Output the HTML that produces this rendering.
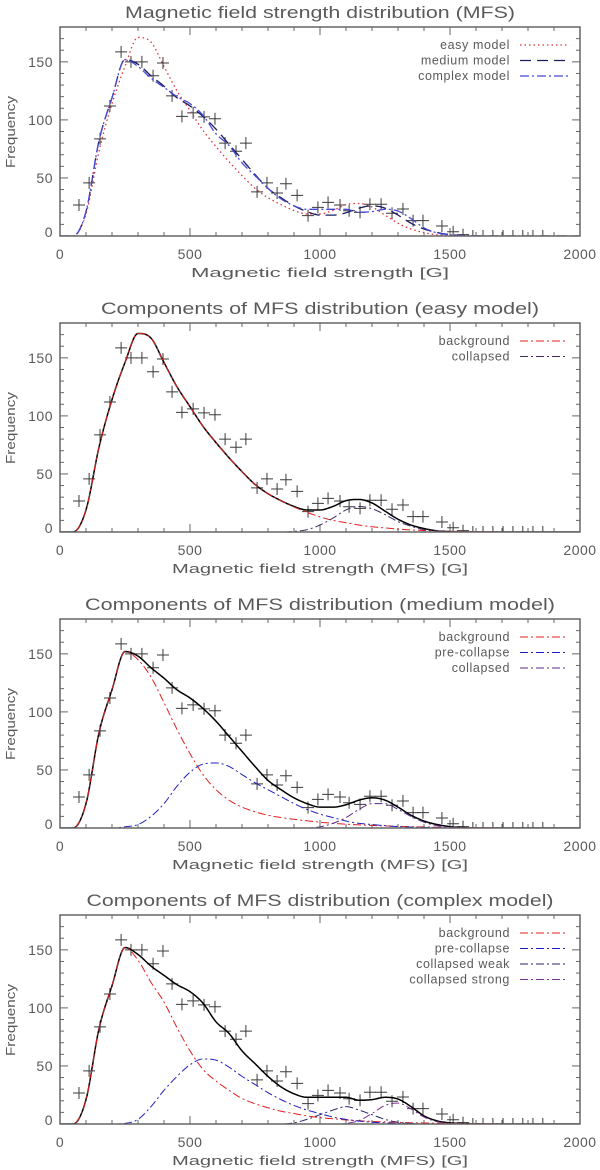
<!DOCTYPE html>
<html><head><meta charset="utf-8"><style>
html,body{margin:0;padding:0;background:#fff;}
svg{display:block;font-family:"Liberation Sans",sans-serif;}
</style></head><body>
<svg id="chart" width="600" height="1170" viewBox="0 0 600 1170" xmlns="http://www.w3.org/2000/svg"></svg>
<script>
// grid of field strengths (G) where model curves are sampled
const gridX = [0,50,100,150,200,250,300,350,400,450,500,550,600,650,700,750,800,850,900,950,1000,1050,1100,1150,1200,1250,1300,1350,1400,1450,1500,1550,1600,1650,1700,1750,1800,1850,1900,1950,2000];
// observed histogram
const dataX = [73,112,154,192,235,273,315,358,396,431,469,512,554,596,635,677,715,758,796,835,869,912,954,992,1031,1077,1112,1154,1192,1235,1277,1319,1358,1396,1469,1512,1550,1588,1627,1665,1704,1742,1780,1819,1857];
const dataY = [26.7,45.7,83.6,112,158.6,150,150,138,149,120.7,103,106,102.6,101,80,73,80,38,45.7,37,45,35,17.5,24.7,29,26.7,21.8,20.4,27.3,27.3,19.6,23.3,13.2,13.2,8.6,3.7,1.2,0,0,0,0,0,0,0,0];
// easy model
const easyTotal = [0,0,19,73,114,146,171,167,146,125,108,91,77,64,52,41,33,27,22,19,19,22,27,28,25,18,11,6,3,1,0.4,0,0,0,0,0,0,0,0,0,0];
const easyBg = [0,0,19,73,114,146,171,167,146,125,108,91,77,64,52,41,33,27,21.5,17,13,10,8,6,4.5,3.5,2.5,1.8,1.3,0.9,0.6,0.4,0.3,0.2,0.1,0,0,0,0,0,0];
const easyColl = [0,0,0,0,0,0,0,0,0,0,0,0,0,0,0,0,0,0,0.5,2,6,12,19,22,20,15,9,5,2,1,0.3,0,0,0,0,0,0,0,0,0,0];
// medium model
const medTotal = [0,0,21,82,119,152,148,138,129,119,112,103,92,79,66,53,41,33,26,21,18,18,20,24,26,24,18,11,6,3,1.2,0.4,0,0,0,0,0,0,0,0,0];
const medBg = [0,0,21,82,119,152,145,130,108,85,64,46,33,24,18,14,11,9,7.5,6.2,5,4,3.3,2.7,2.2,1.8,1.4,1.1,0.9,0.7,0.5,0.4,0.3,0.2,0.1,0,0,0,0,0,0];
const medPre = [0,0,0,0,0,1,3,10,21,36,48,55,56,53,46,39,33,27,21,16,12,9,6,4,3,2,1.2,0.8,0.5,0.3,0,0,0,0,0,0,0,0,0,0,0];
const medColl = [0,0,0,0,0,0,0,0,0,0,0,0,0,0,0,0,0,0,0,0,1,4,9,16,21,21,16,10,5,2,0.8,0.3,0,0,0,0,0,0,0,0,0];
// complex model
const cxTotal = [0,0,21,82,119,152,146,136,128,120,114,104,88,78,63,52,41,32,26,23,23,23,23,20.5,21,23,21.5,15,7,2.7,1,0.4,0.2,0,0,0,0,0,0,0,0];
const cxBg = [0,0,21,82,119,152,141,122,105,83,63,47,37,29,22,17.5,14,11,9,7,5.5,4.5,3.5,2.8,2.2,1.8,1.4,1.1,0.9,0.7,0.5,0.4,0.3,0.2,0.1,0,0,0,0,0,0];
const cxPre = [0,0,0,0,0,0.5,4,15,29,41,51,56,55,49,41,34,27,21,16,12,9,6,4,2.5,1.5,1,0.5,0.2,0,0,0,0,0,0,0,0,0,0,0,0,0];
const cxWeak = [0,0,0,0,0,0,0,0,0,0,0,0,0,0,0,0,0,0,1,4,8,12,15,12,8,4,1.5,0.5,0,0,0,0,0,0,0,0,0,0,0,0,0];
const cxStrong = [0,0,0,0,0,0,0,0,0,0,0,0,0,0,0,0,0,0,0,0,0,0,0.5,3,9,16,18,13,6,2,0.5,0,0,0,0,0,0,0,0,0,0];
// axis ticks
const xTicks = [0,500,1000,1500,2000];
const yTicks = [0,50,100,150];

const NS = "http://www.w3.org/2000/svg";
const svg = document.getElementById('chart');
const L = 60, W = 520, H = 209, XMAX = 2000, YMAX = 180;
const TXT = '#5a5a5a';
function el(tag, attrs, parent){ const e=document.createElementNS(NS,tag); for(const k in attrs) e.setAttribute(k,attrs[k]); (parent||svg).appendChild(e); return e; }
function xs(v){ return L + v / XMAX * W; }

function monotone(xArr, yArr){
  const n=xArr.length, d=[], m=new Array(n).fill(0);
  for(let i=0;i<n-1;i++) d.push((yArr[i+1]-yArr[i])/(xArr[i+1]-xArr[i]));
  m[0]=d[0]; m[n-1]=d[n-2];
  for(let i=1;i<n-1;i++){ m[i]=(d[i-1]*d[i]<=0)?0:(d[i-1]+d[i])/2; }
  for(let i=0;i<n-1;i++){
    if(d[i]===0){m[i]=0;m[i+1]=0;continue;}
    const a=m[i]/d[i], b=m[i+1]/d[i], s=a*a+b*b;
    if(s>9){const t=3/Math.sqrt(s); m[i]=t*a*d[i]; m[i+1]=t*b*d[i];}
  }
  return function(x){
    let i=0; while(i<n-2 && x>xArr[i+1]) i++;
    const h=xArr[i+1]-xArr[i], t=(x-xArr[i])/h, t2=t*t, t3=t2*t;
    return (2*t3-3*t2+1)*yArr[i]+(t3-2*t2+t)*h*m[i]+(-2*t3+3*t2)*yArr[i+1]+(t3-t2)*h*m[i+1];
  };
}

const panels = [
  {title:"Magnetic field strength distribution (MFS)", tl:390, xlab:"Magnetic field strength [G]", xl:258, key:'distribution',
   series:[
    {name:"easy model", data:easyTotal, color:"#e0303a", dash:"1.5,3", w:1.3, key:'easy-model'},
    {name:"medium model", data:medTotal, color:"#1c1c60", dash:"11,6", w:1.3, key:'medium-model'},
    {name:"complex model", data:cxTotal, color:"#4848d8", dash:"9,3,2,3", w:1.3, key:'complex-model'}], total:null},
  {title:"Components of MFS distribution (easy model)", tl:438, xlab:"Magnetic field strength (MFS) [G]", xl:296, key:'easy',
   total:easyTotal, series:[
    {name:"background", data:easyBg, color:"#e02020", dash:"8,3,2,3", w:1, key:'background'},
    {name:"collapsed", data:easyColl, color:"#402a60", dash:"8,3,2,3", w:1, key:'collapsed'}]},
  {title:"Components of MFS distribution (medium model)", tl:470, xlab:"Magnetic field strength (MFS) [G]", xl:296, key:'medium',
   total:medTotal, series:[
    {name:"background", data:medBg, color:"#e02020", dash:"8,3,2,3", w:1, key:'background'},
    {name:"pre-collapse", data:medPre, color:"#2020c0", dash:"8,3,2,3", w:1, key:'pre-collapse'},
    {name:"collapsed", data:medColl, color:"#5a2a8a", dash:"8,3,2,3", w:1, key:'collapsed'}]},
  {title:"Components of MFS distribution (complex model)", tl:467, xlab:"Magnetic field strength (MFS) [G]", xl:296, key:'complex',
   total:cxTotal, series:[
    {name:"background", data:cxBg, color:"#e02020", dash:"8,3,2,3", w:1, key:'background'},
    {name:"pre-collapse", data:cxPre, color:"#2020c0", dash:"8,3,2,3", w:1, key:'pre-collapse'},
    {name:"collapsed weak", data:cxWeak, color:"#24246a", dash:"8,3,2,3", w:1, key:'collapsed-weak'},
    {name:"collapsed strong", data:cxStrong, color:"#7a3090", dash:"8,3,2,3", w:1, key:'collapsed-strong'}]}
];

function curvePath(arr, ys){
  const f = monotone(gridX, arr);
  let d='';
  for(let x=0;x<=XMAX;x+=5){ let v=Math.max(0,f(x)); d+=(x?'L':'M')+xs(x).toFixed(2)+','+ys(v).toFixed(2); }
  return d;
}

panels.forEach((p,pi)=>{
  const top = 27 + 296*pi, bot = top + H;
  const ys = v => bot - v / YMAX * H;
  const g = el('g',{});
  
  
  const cid='clip'+pi;
  const cp=el('clipPath',{id:cid},g); el('rect',{x:L,y:top,width:W,height:H},cp);

  const t = el('text',{x:320,y:top-9,'text-anchor':'middle','font-size':17,fill:TXT,textLength:p.tl,lengthAdjust:'spacingAndGlyphs'},g);
  t.textContent=p.title;
  
  

  const tk = el('g',{stroke:'#666','stroke-width':1},g);
  
  
  for(let x=0;x<=XMAX;x+=100){
    const len = (x%500===0)?8:4;
    el('line',{x1:xs(x),x2:xs(x),y1:bot,y2:bot-len},tk);
    el('line',{x1:xs(x),x2:xs(x),y1:top,y2:top+len},tk);
  }
  for(let y=0;y<=YMAX;y+=10){
    const len = (y%50===0)?8:4;
    el('line',{x1:L,x2:L+len,y1:ys(y),y2:ys(y)},tk);
    el('line',{x1:L+W,x2:L+W-len,y1:ys(y),y2:ys(y)},tk);
  }
  xTicks.forEach(v=>{
    const tx=el('text',{x:xs(v),y:bot+23,'text-anchor':'middle','font-size':14,fill:TXT,'letter-spacing':'0.5'},g);
    tx.textContent=v;
    
    
  });
  yTicks.forEach(v=>{
    const ty=el('text',{x:53,y:ys(v)+(v===0?1:5),'text-anchor':'end','font-size':14,fill:TXT,'letter-spacing':'0.5'},g);
    ty.textContent=v;
    
    
  });
  const xl=el('text',{x:320,y:bot+41,'text-anchor':'middle','font-size':13,fill:TXT,textLength:p.xl,lengthAdjust:'spacingAndGlyphs'},g);
  xl.textContent=p.xlab;
  
  
  const yl=el('text',{x:0,y:0,'text-anchor':'middle','font-size':13,fill:TXT,transform:`translate(15,${top+105}) rotate(-90)`,textLength:72,lengthAdjust:'spacingAndGlyphs'},g);
  yl.textContent='Frequency';
  
  

  const cg = el('g',{stroke:'#3a3a3a','stroke-width':1,'clip-path':`url(#${cid})`},g);
  
  
  dataX.forEach((x,i)=>{
    const cx=xs(x), cy=ys(dataY[i]);
    const c=el('path',{d:`M${cx-6},${cy}H${cx+6}M${cx},${cy-6}V${cy+6}`,fill:'none'},cg);
    
    
  });

  const lg = el('g',{'clip-path':`url(#${cid})`},g);
  if(p.total){
    const tp=el('path',{d:curvePath(p.total,ys),fill:'none',stroke:'#000','stroke-width':1.5},lg);
    
    
  }
  p.series.forEach(s=>{
    const sp=el('path',{d:curvePath(s.data,ys),fill:'none',stroke:s.color,'stroke-width':s.w,'stroke-dasharray':s.dash},lg);
    
    
  });

  const leg = el('g',{},g);
  
  
  p.series.forEach((s,i)=>{
    const ly = top + 18 + i*15.5;
    const e = el('g',{},leg);
    
    
    const lt=el('text',{x:510,y:ly+4,'text-anchor':'end','font-size':12.5,fill:TXT,'letter-spacing':'0.6'},e);
    lt.textContent=s.name;
    el('line',{x1:520,x2:568,y1:ly,y2:ly,stroke:s.color,'stroke-width':s.w,'stroke-dasharray':s.dash},e);
  });

  const fr=el('rect',{x:L,y:top,width:W,height:H,fill:'none',stroke:'#666','stroke-width':1.5},g);
  
  
});
</script>
</body></html>
